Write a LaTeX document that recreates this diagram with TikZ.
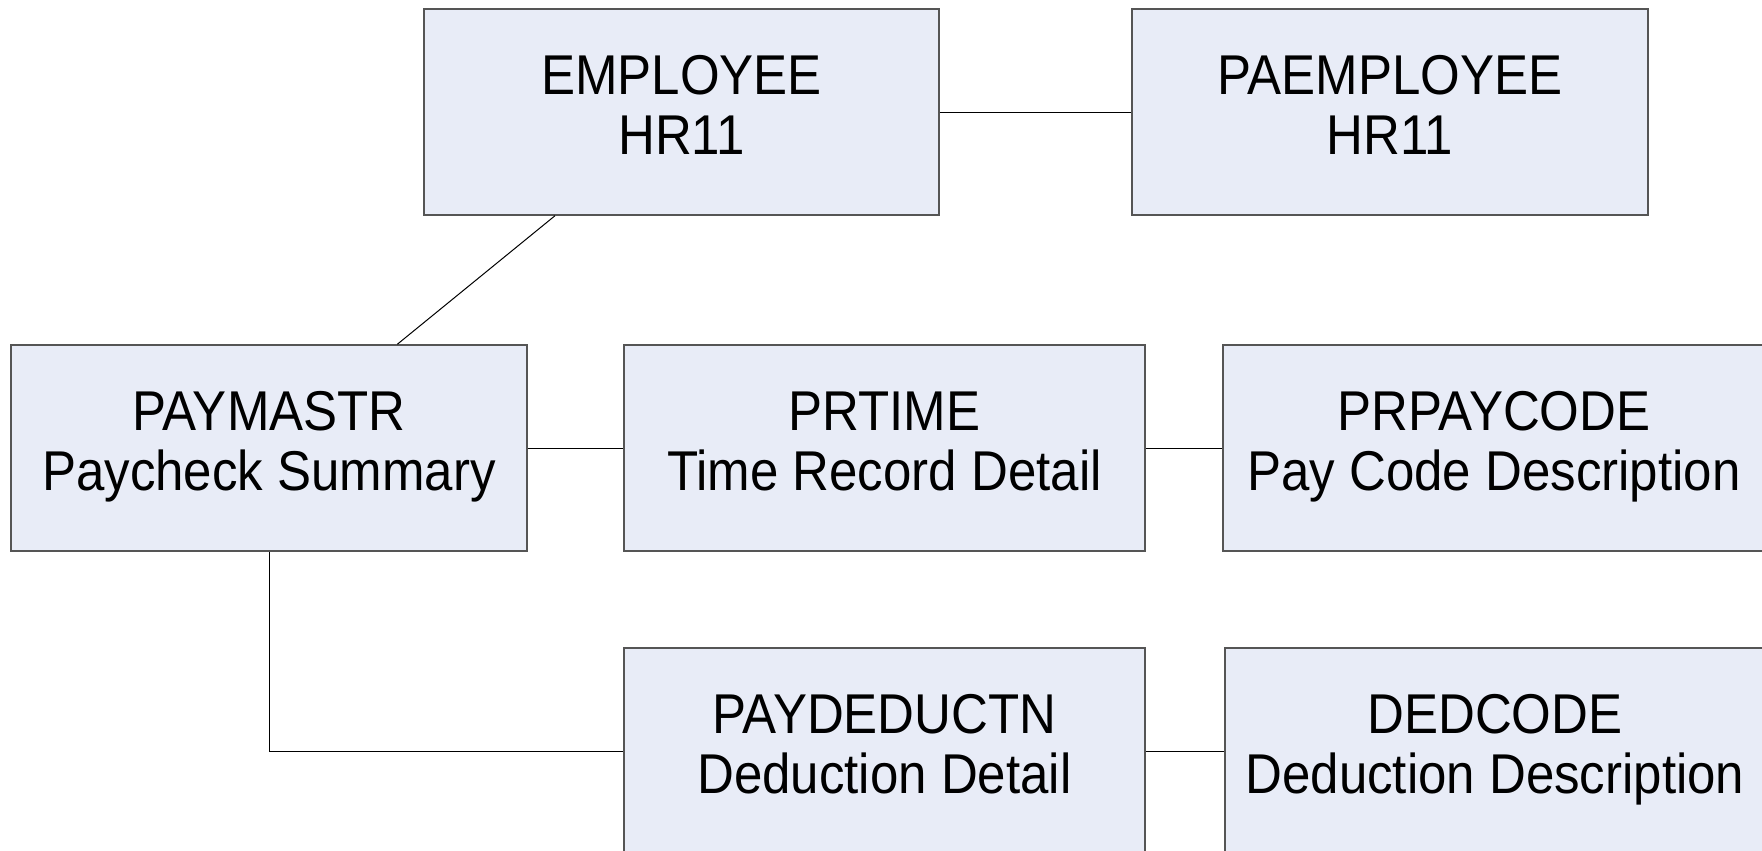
\documentclass[tikz,border=0pt]{standalone}
\usepackage{fontspec}
\setmainfont{Liberation Sans}
\usetikzlibrary{calc}
\definecolor{boxfill}{HTML}{E8ECF7}
\definecolor{boxline}{HTML}{555555}
\tikzset{
  tbl/.style={draw=boxline, line width=1.5pt, fill=boxfill, inner sep=0pt,
    minimum height=206pt, align=center,
    font=\fontsize{51}{56}\selectfont},
  link/.style={draw=black, line width=1pt}
}
\newcommand{\boxtext}[2]{\scalebox{1}[1.1]{\begin{tabular}{@{}c@{}}#1\\[-1pt]#2\end{tabular}}}
\begin{document}
\begin{tikzpicture}[x=1pt,y=-1pt]
\useasboundingbox (0,0) rectangle (1762,851);
\clip (0,0) rectangle (1762,851);
\node[tbl, minimum width=515pt] (emp) at (681.5,112) {\boxtext{EMPLOYEE}{HR11}};
\node[tbl, minimum width=516pt] (paemp) at (1390,112) {\boxtext{PAEMPLOYEE}{HR11}};
\node[tbl, minimum width=516pt] (paym) at (269,448) {\boxtext{PAYMASTR}{Paycheck Summary}};
\node[tbl, minimum width=521pt] (prtime) at (884.5,448) {\boxtext{PRTIME}{Time Record Detail}};
\node[tbl, minimum width=542pt] (prpay) at (1494,448) {\boxtext{PRPAYCODE}{Pay Code Description}};
\node[tbl, minimum width=521pt] (paydd) at (884.5,751) {\boxtext{PAYDEDUCTN}{Deduction Detail}};
\node[tbl, minimum width=540pt] (ded) at (1495,751) {\boxtext{DEDCODE}{Deduction Description}};
\draw[link] (emp.east) -- (paemp.west);
\draw[link] ($(emp.south west)!0.255!(emp.south east)$) -- ($(paym.north west)!0.748!(paym.north east)$);
\draw[link] (paym.east) -- (prtime.west);
\draw[link] (prtime.east) -- (prpay.west);
\draw[link] (paym.south) |- (paydd.west);
\draw[link] (paydd.east) -- (ded.west);
\end{tikzpicture}
\end{document}
